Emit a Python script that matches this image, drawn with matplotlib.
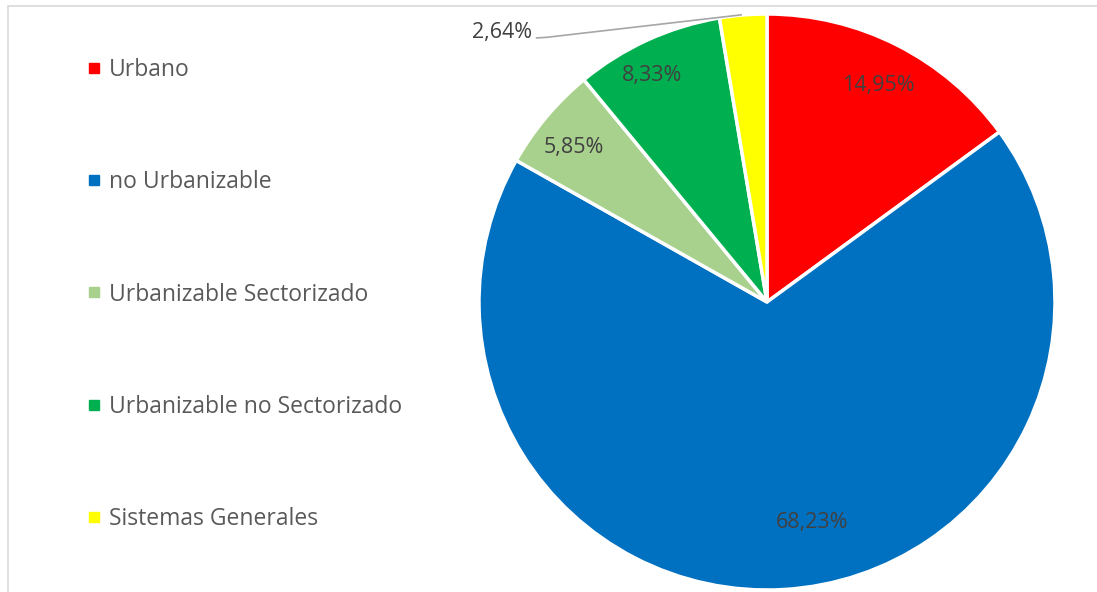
import matplotlib
matplotlib.use("Agg")
import matplotlib.pyplot as plt
from matplotlib.lines import Line2D
from matplotlib.patches import Rectangle

# Datos
categorias = ["Urbano", "no Urbanizable", "Urbanizable Sectorizado",
              "Urbanizable no Sectorizado", "Sistemas Generales"]
porcentajes = [14.95, 68.23, 5.85, 8.33, 2.64]
colores = ["#FF0000", "#0070C0", "#A9D18E", "#00B050", "#FFFF00"]
etiquetas = ["14,95%", "68,23%", "5,85%", "8,33%", "2,64%"]

plt.rcParams["font.family"] = ["Open Sans", "DejaVu Sans"]

W, H = 1097, 592
fig = plt.figure(figsize=(W / 100, H / 100), dpi=100)

# marco del gráfico
fig.patches.append(Rectangle((8 / W, -0.1), 1.2, 1 - 6 / H + 0.1,
                             transform=fig.transFigure, fill=False,
                             edgecolor="#d9d9d9", lw=1.2))

cx, cy, r = 767, 302, 288
ax = fig.add_axes([(cx - r) / W, (H - cy - r) / H, 2 * r / W, 2 * r / H])
wedges, _ = ax.pie(porcentajes, colors=colores, startangle=90,
                   counterclock=False, radius=1,
                   wedgeprops=dict(edgecolor="white", linewidth=2.5))
ax.set_xlim(-1, 1)
ax.set_ylim(-1, 1)
ax.set_aspect("equal")
ax.axis("off")

# posiciones de etiquetas (estilo Excel)
pos = [(0.385, 0.75), (0.156, -0.767), (-0.67, 0.535), (-0.40, 0.785),
       (-0.92, 0.935)]
for (x, y), t in zip(pos, etiquetas):
    ax.text(x, y, t, ha="center", va="center", fontsize=15.5, color="#404040")

# línea guía para 2,64%
ax.plot([-0.80, -0.765, -0.09], [0.917, 0.919, 0.997], color="#a6a6a6",
        lw=1.2, clip_on=False)

handles = [Line2D([], [], marker="s", linestyle="none", markersize=7.5,
                  markerfacecolor=c, markeredgecolor=c) for c in colores]
fig.legend(handles, categorias, loc="center left",
           bbox_to_anchor=(0.080, 1 - 294.5 / H), frameon=False,
           fontsize=16.5, labelcolor="#595959", handlelength=0.55,
           handletextpad=0.38, labelspacing=3.85, borderpad=0,
           borderaxespad=0)

fig.savefig("out.png", dpi=100)
